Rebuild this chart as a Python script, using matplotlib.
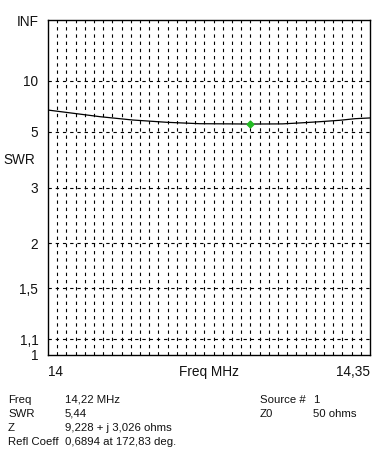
import numpy as np
import matplotlib
matplotlib.use("Agg")
import matplotlib.pyplot as plt

plt.rcParams['font.family'] = ['Liberation Sans', 'DejaVu Sans']

# SWR sweep
freq = [14.000, 14.0565, 14.092, 14.129, 14.165, 14.198, 14.22, 14.255,
        14.274, 14.296, 14.317, 14.334, 14.350]
swr = [6.44, 5.93, 5.70, 5.55, 5.46, 5.45, 5.44, 5.45,
       5.51, 5.59, 5.68, 5.79, 5.84]

swr_ticks = [1, 1.1, 1.5, 2, 3, 5, 10]
swr_labels = ["1", "1,1", "1,5", "2", "3", "5", "10"]

cursor_freq = 14.22
cursor_swr = 5.44

info_left = [("Freq", "14,22 MHz"), ("SWR", "5,44"),
             ("Z", "9,228 + j 3,026 ohms"), ("Refl Coeff", "0,6894 at 172,83 deg.")]
info_right = [("Source #", "1"), ("Z0", "50 ohms")]


def rho(s):
    s = np.asarray(s, dtype=float)
    return (s - 1) / (s + 1)


fig = plt.figure(figsize=(3.91, 4.58), dpi=100)
ax = fig.add_axes([48 / 391, 1 - 355 / 458, 322 / 391, 335 / 458])

ax.set_xlim(14.0, 14.35)
ax.set_ylim(0, 1)

# grid
for f in np.arange(14.01, 14.345, 0.01):
    ax.axvline(f, color="black", lw=0.8, ls=(0, (3, 3.5)), zorder=1)
for s in swr_ticks[1:]:
    ax.axhline(rho(s), color="black", lw=0.8, ls=(0, (3, 3.5)), zorder=1)

ax.plot(freq, rho(swr), color="black", lw=0.9, zorder=3)
ax.plot([cursor_freq], [rho(cursor_swr)], marker="D", ms=3.5, color="#22bb22",
        mec="#22bb22", zorder=4)

for sp in ax.spines.values():
    sp.set_linewidth(1.0)

lab = 9.8
ax.set_yticks(list(rho(swr_ticks)) + [1.0])
ax.set_yticklabels(swr_labels + ["INF"])
ax.set_xticks([])
ax.tick_params(axis="y", length=0, pad=7, labelsize=lab, colors="#111111")

ax.text(14.0, -0.052, "14", ha="left", va="center", fontsize=lab, color="#111111")
ax.text(14.35, -0.052, "14,35", ha="right", va="center", fontsize=lab, color="#111111")
ax.text(14.175, -0.052, "Freq MHz", ha="center", va="center", fontsize=lab, color="#111111")
fig.text(35 / 391, 1 - 160 / 458, "SWR", ha="right", va="center", fontsize=lab, color="#111111")

for i, (k, v) in enumerate(info_left):
    y = 1 - (400 + 14 * i) / 458
    fig.text(8 / 391, y, k, ha="left", va="center", fontsize=8.2, color="#111111")
    fig.text(65 / 391, y, v, ha="left", va="center", fontsize=8.2, color="#111111")
for i, (k, v) in enumerate(info_right):
    y = 1 - (400 + 14 * i) / 458
    fig.text(260 / 391, y, k, ha="left", va="center", fontsize=8.2, color="#111111")
    fig.text(313 / 391, y, v, ha="left", va="center", fontsize=8.2, color="#111111")

fig.savefig("out.png", dpi=100)
